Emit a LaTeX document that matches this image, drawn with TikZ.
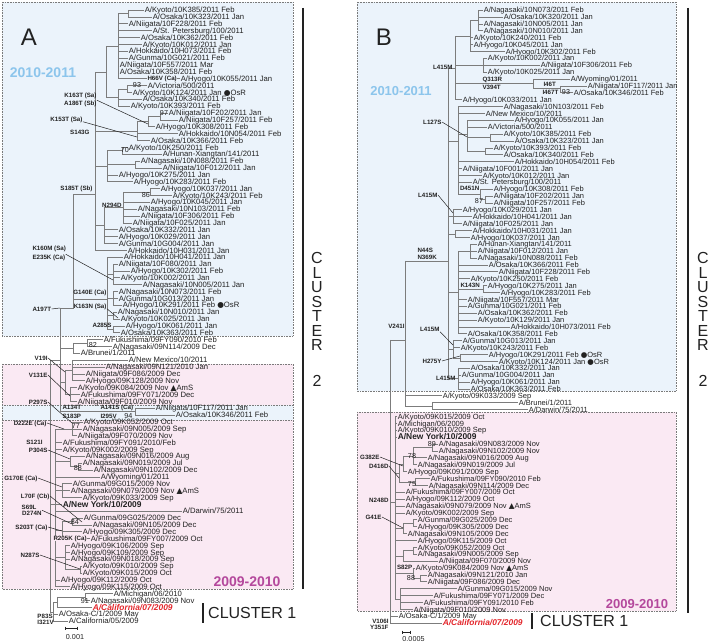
\documentclass[tikz,border=0pt]{standalone}
\usepackage{fontspec}
\setmainfont{Liberation Sans}
\newfontfamily\symf{DejaVu Sans}
\definecolor{bluebg}{HTML}{EBF3FB}
\definecolor{pinkbg}{HTML}{FAE9F3}
\definecolor{boxgray}{HTML}{7A7A7A}
\definecolor{treegray}{HTML}{7C7C7C}
\definecolor{txt}{HTML}{222222}
\definecolor{yearblue}{HTML}{8CC5EC}
\definecolor{yearpink}{HTML}{B4489C}
\definecolor{calred}{HTML}{E3262B}
\tikzset{
 br/.style={draw=treegray, line width=0.5pt},
 lfA/.style={anchor=west, inner xsep=0.6pt, inner ysep=0pt, text height=5.5pt, text depth=0pt, font=\fontsize{7.7}{8}\selectfont, text=txt},
 lfB/.style={lfA, font=\fontsize{7.5}{8}\selectfont},
 mut/.style={inner sep=0.3pt, text height=4.5pt, text depth=0pt, font=\bfseries\fontsize{6.2}{6.5}\selectfont, text=txt},
 bsn/.style={inner sep=0.3pt, text height=5pt, text depth=0pt, font=\fontsize{7.2}{7.5}\selectfont, text=txt},
 ptr/.style={draw=txt, line width=0.5pt},
 boxd/.style={draw=boxgray, densely dotted, line width=0.6pt},
 clus/.style={inner sep=0pt, text height=11.5pt, text depth=0pt, font=\fontsize{16}{16}\selectfont, text=txt},
 yr/.style={inner sep=0pt, font=\bfseries\fontsize{14}{14}\selectfont},
}
\newcommand\yA[1]{10+6.865*(#1-1)}
\newcommand\yB[1]{10+6.888*(#1-1)}
\newcommand\lfa[4]{\node[lfA] (a#1) at (#3,{\yA{#1}}) {#4}; \draw[br] (#2,{\yA{#1}}) -- (a#1.west);}
\newcommand\vla[3]{\draw[br] (#1,{\yA{#2}}) -- (#1,{\yA{#3}});}
\newcommand\hla[3]{\draw[br] (#1,{\yA{#3}}) -- (#2,{\yA{#3}});}
\newcommand\lfb[4]{\node[lfB] (b#1) at (#3,{\yB{#1}}) {#4}; \draw[br] (#2,{\yB{#1}}) -- (b#1.west);}
\newcommand\vlb[3]{\draw[br] (#1,{\yB{#2}}) -- (#1,{\yB{#3}});}
\newcommand\hlb[3]{\draw[br] (#1,{\yB{#3}}) -- (#2,{\yB{#3}});}
\newcommand\osr{{\symf ●}OsR}
\newcommand\ams{{\symf ▲}AmS}
\newcommand\nyk{{\bfseries\fontsize{8.4}{9}\selectfont A/New York/10/2009}}
\newcommand\calif{{\color{calred}\bfseries\itshape\fontsize{8.4}{9}\selectfont A/California/07/2009}}
\begin{document}
\begin{tikzpicture}[x=1pt,y=-1pt]
\useasboundingbox (0,0) rectangle (713,644);
\fill[white] (0,0) rectangle (713,644);
% ---------- boxes ----------
\fill[bluebg] (2,2) rectangle (293,336); \draw[boxd] (2,2) rectangle (293,336);
\fill[pinkbg] (2,364) rectangle (293,405); \draw[boxd] (2,364) rectangle (293,405);
\fill[bluebg] (2,405) rectangle (293,420); \draw[boxd] (2,405) rectangle (293,420);
\fill[pinkbg] (2,420) rectangle (293,589); \draw[boxd] (2,420) rectangle (293,589);
\fill[bluebg] (357,2) rectangle (676,391); \draw[boxd] (357,2) rectangle (676,391);
\fill[pinkbg] (357,412) rectangle (676,611); \draw[boxd] (357,412) rectangle (676,611);
% ---------- titles ----------
\node[inner sep=0, font=\fontsize{24}{24}\selectfont, text=txt] (ttlA) at (29,37) {A};
\node[inner sep=0, font=\fontsize{24}{24}\selectfont, text=txt] (ttlB) at (384,37) {B};
\node[yr, text=yearblue] (yA1) at (43,73) {2010-2011};
\node[yr, text=yearblue, font=\bfseries\fontsize{13}{13}\selectfont] (yB1) at (401,91) {2010-2011};
\node[yr, text=yearpink] (yA2) at (247,582) {2009-2010};
\node[yr, text=yearpink, font=\bfseries\fontsize{13}{13}\selectfont] (yB2) at (637,604) {2009-2010};
% cluster labels
\draw[draw=txt, line width=1.1pt] (303,8) -- (303,589);
\draw[draw=txt, line width=1.1pt] (688,8) -- (688,613);
\foreach \l/\yy [count=\k] in {C/258,L/272.5,U/287,S/301.5,T/316,E/330.5,R/345,2/381}{
  \node[clus] (cA\k) at (317,\yy) {\l};
  \node[clus] (cB\k) at (703,\yy) {\l};
}
\draw[draw=txt, line width=1.1pt] (203,603) -- (203,623);
\node[clus, anchor=west] (c1A) at (208,613) {CLUSTER 1};
\draw[draw=txt, line width=1.1pt] (532,613) -- (532,629);
\node[clus, anchor=west] (c1B) at (540,621) {CLUSTER 1};
% scale bars
\draw[br, draw=txt] (65,628) -- (77,628); \draw[br,draw=txt] (65,626.5)--(65,629.5); \draw[br,draw=txt] (77,626.5)--(77,629.5);
\node[bsn] (scA) at (75,637) {0.001};
\draw[br, draw=txt] (402,632) -- (410,632); \draw[br,draw=txt] (402,630.5)--(402,633.5); \draw[br,draw=txt] (410,630.5)--(410,633.5);
\node[bsn] (scB) at (413.5,639) {0.0005};
% =================== PANEL A ===================
\vla{118}{1.5}{11} \hla{118}{128}{1.5} \vla{128}{1}{2}
\lfa{1}{128}{144}{A/Kyoto/10K385/2011 Feb}
\lfa{2}{128}{152}{A/Osaka/10K323/2011 Jan}
\lfa{3}{118}{128}{A/Niigata/10F228/2011 Feb}
\lfa{4}{118}{152}{A/St. Petersburg/100/2011}
\lfa{5}{118}{140}{A/Osaka/10K362/2011 Feb}
\lfa{6}{118}{142}{A/Kyoto/10K012/2011 Jan}
\lfa{7}{118}{128}{A/Hokkaido/10H073/2011 Feb}
\lfa{8}{118}{128}{A/Gunma/10G021/2011 Feb}
\lfa{9}{118}{119}{A/Niigata/10F557/2011 Mar}
\lfa{10}{118}{119}{A/Osaka/10K358/2011 Feb}
\lfa{11}{118}{180}{A/Hyogo/10K055/2011 Jan}
\vla{118}{12.5}{15} \hla{118}{127}{12.5} \vla{127}{12}{13}
\lfa{12}{127}{147}{A/Victoria/500/2011}
\lfa{13}{127}{132}{A/Kyoto/10K124/2011 Jan \osr}
\lfa{14}{118}{142}{A/Osaka/10K340/2011 Feb}
\lfa{15}{118}{130}{A/Kyoto/10K393/2011 Feb}
\vla{106}{6.25}{13.75} \hla{106}{118}{6.25} \hla{106}{118}{13.75}
\vla{95}{10}{36} \hla{95}{106}{10}
\vla{160}{16}{17} \hla{148}{160}{16.5} \vla{148}{16.5}{18}
\lfa{16}{160}{168}{A/Niigata/10F202/2011 Jan}
\lfa{17}{160}{178}{A/Niigata/10F257/2011 Feb}
\lfa{18}{148}{155}{A/Hyogo/10K308/2011 Feb}
\hla{137}{148}{17.25} \vla{137}{17.25}{20}
\lfa{19}{137}{178}{A/Hokkaido/10N054/2011 Feb}
\lfa{20}{137}{150}{A/Osaka/10K366/2011 Feb}
\hla{95}{137}{18.6}
\vla{122}{21}{22} \hla{107}{122}{21.5}
\lfa{21}{122}{128}{A/Kyoto/10K250/2011 Feb}
\lfa{22}{122}{162}{A/Hunan-Xiangtan/141/2011}
\vla{135}{23}{24} \hla{107}{135}{23.5}
\lfa{23}{135}{140}{A/Nagasaki/10N088/2011 Feb}
\lfa{24}{135}{162}{A/Niigata/10F012/2011 Jan}
\lfa{25}{107}{118}{A/Hyogo/10K275/2011 Jan}
\lfa{26}{107}{133}{A/Hyogo/10K283/2011 Feb}
\vla{107}{21.5}{26} \hla{95}{107}{23.75}
\vla{150}{27}{28} \hla{123}{150}{27.5}
\lfa{27}{150}{160}{A/Hyogo/10K037/2011 Jan}
\lfa{28}{150}{172}{A/Kyoto/10K243/2011 Feb}
\lfa{29}{123}{150}{A/Hyogo/10K045/2011 Jan}
\lfa{30}{123}{137}{A/Nagasaki/10N103/2011 Feb}
\lfa{31}{123}{140}{A/Niigata/10F306/2011 Feb}
\lfa{32}{123}{132}{A/Niigata/10F025/2011 Jan}
\vla{123}{27.5}{32} \hla{104}{123}{29.75}
\lfa{33}{104}{118}{A/Osaka/10K332/2011 Jan}
\lfa{34}{104}{118}{A/Hyogo/10K029/2011 Jan}
\lfa{35}{104}{118}{A/Gunma/10G004/2011 Jan}
\vla{104}{29.75}{35} \hla{95}{104}{32.4}
\lfa{36}{95}{127}{A/Hokkaido/10H031/2011 Jan}
\lfa{37}{107}{123}{A/Hokkaido/10H041/2011 Jan}
\vla{113}{38}{41} \hla{107}{113}{39.5}
\lfa{38}{113}{118}{A/Niigata/10F080/2011 Jan}
\lfa{39}{113}{130}{A/Hyogo/10K302/2011 Feb}
\lfa{40}{113}{120}{A/Kyoto/10K002/2011 Jan}
\lfa{41}{113}{142}{A/Nagasaki/10N005/2011 Jan}
\vla{113}{42}{44} \hla{107}{113}{43}
\lfa{42}{113}{118}{A/Nagasaki/10N073/2011 Feb}
\lfa{43}{113}{118}{A/Gunma/10G013/2011 Jan}
\lfa{44}{113}{122}{A/Hyogo/10K291/2011 Feb \osr}
\vla{113}{45}{46} \hla{107}{113}{45.5}
\lfa{45}{113}{117}{A/Nagasaki/10N010/2011 Jan}
\lfa{46}{113}{120}{A/Kyoto/10K025/2011 Jan}
\vla{113}{47}{48} \hla{107}{113}{47.5}
\lfa{47}{113}{125}{A/Hyogo/10K061/2011 Jan}
\lfa{48}{113}{120}{A/Osaka/10K363/2011 Feb}
\vla{107}{37}{47.5} \hla{73}{107}{43.2}
\hla{73}{95}{27.9}
\vla{73}{27.9}{44.5} \hla{60}{73}{44.5}
\vla{87}{49}{50}
\lfa{49}{87}{103}{A/Fukushima/09FY090/2010 Feb}
\lfa{50}{87}{112}{A/Nagasaki/09N114/2009 Dec}
\hla{73}{87}{49.5} \vla{73}{49.5}{51}
\lfa{51}{73}{80}{A/Brunei/1/2011}
\hla{60}{73}{50.25}
\vla{72}{52}{55}
\lfa{52}{72}{128}{A/New Mexico/10/2011}
\lfa{53}{72}{105}{A/Nagasaki/09N121/2010 Jan}
\lfa{54}{72}{85}{A/Niigata/09F086/2009 Dec}
\lfa{55}{72}{85}{A/Hyogo/09K128/2009 Nov}
\vla{70}{56}{58}
\lfa{56}{70}{77}{A/Kyoto/09K084/2009 Nov \ams}
\lfa{57}{70}{80}{A/Fukushima/09FY071/2009 Dec}
\lfa{58}{70}{77}{A/Niigata/09F010/2009 Nov}
\vla{65}{53.5}{57} \hla{65}{72}{53.5} \hla{65}{70}{57} \hla{60}{65}{55.25}
\hla{60}{135}{59.5} \vla{135}{59}{60}
\lfa{59}{135}{155}{A/Niigata/10F117/2011 Jan}
\lfa{60}{135}{175}{A/Osaka/10K346/2011 Feb}
\vla{60}{44.5}{59.5}
\vla{50}{52}{88.7} \hla{50}{60}{52}
\vla{72}{61}{63} \hla{55}{72}{62}
\lfa{61}{72}{83}{A/Kyoto/09K052/2009 Oct}
\lfa{62}{72}{82}{A/Nagasaki/09N005/2009 Sep}
\lfa{63}{72}{77}{A/Niigata/09F070/2009 Nov}
\lfa{64}{55}{62}{A/Fukushima/09FY091/2010/Feb}
\lfa{65}{55}{62}{A/Kyoto/09K002/2009 Sep}
\vla{70}{66}{67.5} \hla{55}{70}{66.75}
\lfa{66}{70}{85}{A/Nagasaki/09N016/2009 Aug}
\vla{78}{67}{68} \hla{70}{78}{67.5}
\lfa{67}{78}{82}{A/Nagasaki/09N019/2009 Jul}
\lfa{68}{78}{93}{A/Nagasaki/09N102/2009 Dec}
\lfa{69}{55}{100}{A/Wyoming/01/2011}
\vla{62}{70}{72} \hla{55}{62}{71}
\lfa{70}{62}{72}{A/Gunma/09G015/2009 Nov}
\lfa{71}{62}{70}{A/Nagasaki/09N079/2009 Nov \ams}
\lfa{72}{62}{82}{A/Kyoto/09K033/2009 Sep}
\lfa{73}{55}{62}{\nyk}
\lfa{74}{55}{182}{A/Darwin/75/2011}
\vla{72}{75}{76}
\lfa{75}{72}{83}{A/Gunma/09G025/2009 Dec}
\lfa{76}{72}{92}{A/Nagasaki/09N105/2009 Dec}
\vla{62}{75.5}{78} \hla{62}{72}{75.5} \hla{55}{62}{76.75}
\lfa{77}{62}{82}{A/Hyogo/09K305/2009 Dec}
\lfa{78}{62}{90}{A/Fukushima/09FY007/2009 Oct}
\vla{65}{79}{82.5} \hla{55}{65}{80.75}
\lfa{79}{65}{70}{A/Hyogo/09K106/2009 Sep}
\lfa{80}{65}{70}{A/Hyogo/09K109/2009 Sep}
\lfa{81}{65}{70}{A/Nagasaki/09N018/2009 Sep}
\vla{80}{82}{83} \hla{65}{80}{82.5}
\lfa{82}{80}{82}{A/Kyoto/09K010/2009 Sep}
\lfa{83}{80}{82}{A/Kyoto/09K015/2009 Oct}
\lfa{84}{55}{60}{A/Hyogo/09K112/2009 Oct}
\lfa{85}{55}{70}{A/Hyogo/09K115/2009 Oct}
\vla{55}{62}{85} \hla{50}{55}{73}
\vla{85}{86}{87}
\lfa{86}{85}{113}{A/Michigan/06/2010}
\lfa{87}{85}{90}{A/Nagasaki/09N083/2009 Nov}
\hla{57}{85}{86.5} \vla{57}{86.5}{88}
\lfa{88}{57}{92}{\calif}
\hla{53}{57}{87.25} \vla{53}{87.25}{90}
\lfa{89}{53}{58}{A/Osaka-C/1/2009 May}
\lfa{90}{53}{68}{A/California/05/2009}
\hla{50}{53}{88.7}
% mutation labels A
\node[mut, fill=bluebg, anchor=west] (mH66V) at (147,{\yA{11}}) {H66V (Ca)};
\node[mut, anchor=east] (mK163T) at (97,95) {K163T (Sa)};
\node[mut, anchor=east] (mA186T) at (97,103) {A186T (Sb)};
\coordinate (tA186) at (148,124);
\draw[ptr] (mA186T.north east) -- (tA186);
\node[mut, anchor=east] (mK153T) at (83,119) {K153T (Sa)};
\coordinate (tK153) at (137,137);
\draw[ptr] (mK153T.south east) -- (tK153);
\node[mut, anchor=east] (mS143G) at (90,132) {S143G};
\node[mut, anchor=east] (mS185T) at (93,188) {S185T (Sb)};
\node[mut, anchor=east] (mN294D) at (122,205) {N294D};
\node[mut, anchor=west] (mK160M) at (32,248) {K160M (Sa)};
\node[mut, anchor=west] (mE235K) at (32,257) {E235K (Ca)};
\coordinate (tE235) at (113,280);
\draw[ptr] (mE235K.north east) -- (tE235);
\node[mut, anchor=east] (mG140E) at (107,292) {G140E (Ca)};
\node[mut, anchor=east] (mK163N) at (107,306) {K163N (Sa)};
\coordinate (tK163N) at (118,318);
\draw[ptr] (mK163N.south east) -- (tK163N);
\node[mut, anchor=west] (mA197T) at (32,309) {A197T};
\coordinate (tA197) at (60,308);
\draw[ptr] (mA197T.east) -- (tA197);
\node[mut, anchor=east] (mA285S) at (112,325) {A285S};
\node[mut, anchor=east] (mV19I) at (48,358) {V19I};
\coordinate (tV19) at (65,372);
\draw[ptr] (mV19I.east) -- (tV19);
\node[mut, anchor=east] (mV131E) at (48,375) {V131E};
\coordinate (tV131) at (70,396);
\draw[ptr] (mV131E.east) -- (tV131);
\node[mut, anchor=east] (mP297S) at (48,402) {P297S};
\coordinate (tP297) at (72,423);
\draw[ptr] (mP297S.east) -- (tP297);
\node[mut, anchor=west] (mA134T) at (62,407) {A134T};
\node[mut, anchor=west] (mS183P) at (62,416) {S183P};
\node[mut, anchor=west] (mA141S) at (100,407) {A141S (Ca)};
\node[mut, anchor=west] (mI295V) at (100,416) {I295V};
\node[mut, anchor=east] (mD222E) at (47,423) {D222E (Ca)};
\coordinate (tD222) at (64,429);
\draw[ptr] (mD222E.east) -- (tD222);
\node[mut, anchor=east] (mS121I) at (43,442) {S121I};
\node[mut, anchor=east] (mP304S) at (48,450) {P304S};
\coordinate (tP304) at (70,459);
\draw[ptr] (mP304S.east) -- (tP304);
\node[mut, anchor=east] (mG170E) at (38,478) {G170E (Ca)};
\coordinate (tG170) at (62,487);
\draw[ptr] (mG170E.east) -- (tG170);
\node[mut, anchor=east] (mL70F) at (50,496) {L70F (Cb)};
\coordinate (tL70) at (82,522);
\draw[ptr] (mL70F.east) -- (tL70);
\node[mut, anchor=east] (mS69L) at (37,507) {S69L};
\node[mut, anchor=east] (mD274N) at (42,513) {D274N};
\coordinate (tD274) at (72,524);
\draw[ptr] (mD274N.north east) -- (tD274);
\node[mut, anchor=east] (mS203T) at (48,527) {S203T (Ca)};
\coordinate (tS203) at (62,531);
\draw[ptr] (mS203T.east) -- (tS203);
\node[mut, fill=pinkbg, anchor=west] (mR205K) at (53,{\yA{78}}) {R205K (Ca)};
\node[mut, anchor=east] (mN287S) at (40,555) {N287S};
\coordinate (tN287) at (80,569);
\draw[ptr] (mN287S.east) -- (tN287);
\node[mut, anchor=west] (mP83S) at (37,616) {P83S};
\node[mut, anchor=west] (mI321V) at (37,622.5) {I321V};
% bootstrap A
\node[bsn] (bA1) at (137,85) {93};
\node[bsn] (bA2) at (164,113) {97};
\node[bsn] (bA3) at (125,150) {70};
\node[bsn] (bA4) at (146,195) {86};
\node[bsn] (bA5) at (93,345) {82};
\node[bsn] (bA6) at (128.5,415.8) {94};
\node[bsn] (bA7) at (76,426) {77};
\node[bsn] (bA8) at (78,468) {88};
\node[bsn] (bA9) at (75,522) {84};
\node[bsn] (bA10) at (85,601) {91};
% =================== PANEL B ===================
\vlb{478}{1}{4}
\lfb{1}{478}{483}{A/Nagasaki/10N073/2011 Feb}
\lfb{2}{478}{503}{A/Osaka/10K320/2011 Jan}
\lfb{3}{478}{483}{A/Nagasaki/10N005/2011 Jan}
\lfb{4}{478}{483}{A/Nagasaki/10N010/2011 Jan}
\hlb{470}{478}{2.5} \vlb{470}{2.5}{7}
\lfb{5}{470}{473}{A/Kyoto/10K240/2011 Feb}
\lfb{6}{470}{473}{A/Hyogo/10K045/2011 Jan}
\lfb{7}{470}{505}{A/Hyogo/10K302/2011 Feb}
\vlb{483}{8}{10}
\lfb{8}{483}{487}{A/Kyoto/10K002/2011 Jan}
\lfb{9}{483}{540}{A/Niigata/10F306/2011 Feb}
\lfb{10}{483}{487}{A/Kyoto/10K025/2011 Jan}
\vlb{533}{11}{12.32}
\lfb{11}{533}{570}{A/Wyoming/01/2011}
\vlb{560}{12}{13} \hlb{533}{560}{12.32}
\lfb{12}{560}{587}{A/Niigata/10F117/2011 Jan}
\lfb{13}{560}{573}{A/Osaka/10K346/2011 Feb}
\hlb{455}{470}{4.75} \hlb{455}{483}{9} \hlb{455}{533}{11.6}
\lfb{14}{455}{462}{A/Hyogo/10K033/2011 Jan}
\vlb{455}{4.75}{14} \hlb{448}{455}{9.5}
\lfb{15}{458}{503}{A/Nagasaki/10N103/2011 Feb}
\lfb{16}{458}{485}{A/New Mexico/10/2011}
\vlb{467}{17}{21.5} \hlb{458}{467}{19}
\lfb{17}{467}{514}{A/Hyogo/10K055/2011 Jan}
\lfb{18}{467}{487}{A/Victoria/500/2011}
\vlb{490}{19}{20} \hlb{467}{490}{19.5}
\lfb{19}{490}{503}{A/Kyoto/10K385/2011 Feb}
\lfb{20}{490}{514}{A/Osaka/10K323/2011 Jan}
\vlb{485}{21}{22} \hlb{467}{485}{21.5}
\lfb{21}{485}{493}{A/Kyoto/10K393/2011 Feb}
\lfb{22}{485}{503}{A/Osaka/10K340/2011 Feb}
\lfb{23}{458}{514}{A/Hokkaido/10H054/2011 Feb}
\lfb{24}{458}{462}{A/Niigata/10F001/2011 Jan}
\lfb{25}{458}{482}{A/Kyoto/10K012/2011 Jan}
\lfb{26}{458}{472}{A/St. Petersburg/100/2011}
\vlb{480}{27}{28.5} \hlb{458}{480}{27.75}
\lfb{27}{480}{493}{A/Hyogo/10K308/2011 Feb}
\vlb{485}{28}{29} \hlb{480}{485}{28.5}
\lfb{28}{485}{493}{A/Niigata/10F202/2011 Jan}
\lfb{29}{485}{493}{A/Niigata/10F257/2011 Feb}
\vlb{458}{15}{27.75} \hlb{448}{458}{20}
\vlb{453}{30}{32} \hlb{448}{453}{31}
\lfb{30}{453}{462}{A/Hyogo/10K029/2011 Jan}
\lfb{31}{453}{472}{A/Hokkaido/10H041/2011 Jan}
\lfb{32}{453}{462}{A/Niigata/10F025/2011 Jan}
\vlb{455}{33}{34} \hlb{448}{455}{33.5}
\lfb{33}{455}{472}{A/Hokkaido/10H031/2011 Jan}
\lfb{34}{455}{470}{A/Hyogo/10K037/2011 Jan}
\vlb{470}{35}{37} \hlb{458}{470}{36}
\lfb{35}{470}{477}{A/Hunan-Xiangtan/141/2011}
\lfb{36}{470}{477}{A/Niigata/10F012/2011 Jan}
\lfb{37}{470}{477}{A/Nagasaki/10N088/2011 Feb}
\lfb{38}{458}{488}{A/Osaka/10K366/2011 Feb}
\lfb{39}{458}{498}{A/Niigata/10F228/2011 Feb}
\lfb{40}{458}{470}{A/Kyoto/10K250/2011 Feb}
\vlb{483}{41}{42} \hlb{458}{483}{41.5}
\lfb{41}{483}{487}{A/Hyogo/10K275/2011 Jan}
\lfb{42}{483}{500}{A/Hyogo/10K283/2011 Feb}
\lfb{43}{458}{467}{A/Niigata/10F557/2011 Mar}
\lfb{44}{458}{467}{A/Gunma/10G021/2011 Feb}
\lfb{45}{458}{477}{A/Osaka/10K362/2011 Feb}
\lfb{46}{458}{477}{A/Kyoto/10K129/2011 Jan}
\lfb{47}{458}{510}{A/Hokkaido/10H073/2011 Feb}
\lfb{48}{458}{467}{A/Osaka/10K358/2011 Feb}
\vlb{458}{36}{48} \hlb{448}{458}{42}
\vlb{453}{49}{51.5}
\lfb{49}{453}{462}{A/Gunma/10G013/2011 Jan}
\lfb{50}{453}{460}{A/Kyoto/10K243/2011 Feb}
\vlb{460}{51}{52} \hlb{453}{460}{51.5}
\lfb{51}{460}{488}{A/Hyogo/10K291/2011 Feb \osr}
\lfb{52}{460}{498}{A/Kyoto/10K124/2011 Jan \osr}
\hlb{448}{453}{50.25}
\vlb{458}{53}{56}
\lfb{53}{458}{470}{A/Osaka/10K332/2011 Jan}
\lfb{54}{458}{461}{A/Gunma/10G004/2011 Jan}
\lfb{55}{458}{470}{A/Hyogo/10K061/2011 Jan}
\lfb{56}{458}{470}{A/Osaka/10K363/2011 Feb}
\hlb{448}{458}{54.5}
\vlb{448}{9.5}{54.5}
\hlb{405}{448}{37.44}
\vlb{405}{37.44}{58.5}
\lfb{57}{405}{442}{A/Kyoto/09K033/2009 Sep}
\vlb{432}{58}{59} \hlb{405}{432}{58.5}
\lfb{58}{432}{518}{A/Brunei/1/2011}
\lfb{59}{432}{528}{A/Darwin/75/2011}
\hlb{390}{405}{48.9}
\vlb{390}{48.9}{90}
\lfb{60}{395}{397}{A/Kyoto/09K015/2009 Oct}
\lfb{61}{395}{397}{A/Michigan/06/2009}
\lfb{62}{395}{397}{A/Kyoto/09K010/2009 Sep}
\lfb{63}{395}{397}{\nyk}
\vlb{432}{64}{65}
\lfb{64}{432}{438}{A/Nagasaki/09N083/2009 Nov}
\lfb{65}{432}{438}{A/Nagasaki/09N102/2009 Nov}
\vlb{413}{64.5}{67} \hlb{413}{432}{64.5}
\lfb{66}{413}{427}{A/Nagasaki/09N016/2009 Aug}
\lfb{67}{413}{417}{A/Nagasaki/09N019/2009 Jul}
\vlb{403}{65.75}{68} \hlb{403}{413}{65.75}
\lfb{68}{403}{407}{A/Hyogo/09K091/2009 Sep}
\vlb{415}{69}{70}
\lfb{69}{415}{430}{A/Fukushima/09FY090/2010 Feb}
\lfb{70}{415}{428}{A/Nagasaki/09N114/2009 Dec}
\vlb{399}{66.9}{69.5} \hlb{399}{403}{66.9} \hlb{399}{415}{69.5} \hlb{395}{399}{68.2}
\lfb{71}{395}{405}{A/Fukushima/09FY007/2009 Oct}
\lfb{72}{395}{405}{A/Hyogo/09K112/2009 Oct}
\lfb{73}{395}{405}{A/Nagasaki/09N079/2009 Nov \ams}
\lfb{74}{395}{405}{A/Kyoto/09K002/2009 Sep}
\vlb{413}{75}{76}
\lfb{75}{413}{417}{A/Gunma/09G025/2009 Dec}
\lfb{76}{413}{417}{A/Hyogo/09K305/2009 Dec}
\vlb{403}{75.5}{77} \hlb{403}{413}{75.5}
\lfb{77}{403}{407}{A/Nagasaki/09N105/2009 Dec}
\hlb{395}{403}{76.25}
\lfb{78}{395}{417}{A/Hyogo/09K115/2009 Oct}
\vlb{413}{79}{80}
\lfb{79}{413}{417}{A/Kyoto/09K052/2009 Oct}
\lfb{80}{413}{417}{A/Nagasaki/09N005/2009 Sep}
\vlb{403}{79.5}{81} \hlb{403}{413}{79.5}
\lfb{81}{403}{438}{A/Niigata/09F070/2009 Nov}
\hlb{395}{403}{80.25}
\vlb{413}{82}{83.5}
\lfb{82}{413}{415}{A/Kyoto/09K084/2009 Nov \ams}
\vlb{420}{83}{84} \hlb{413}{420}{83.5}
\lfb{83}{420}{427}{A/Nagasaki/09N121/2010 Jan}
\lfb{84}{420}{427}{A/Niigata/09F086/2009 Dec}
\hlb{395}{413}{82.75}
\vlb{400}{85}{88}
\lfb{85}{400}{457}{A/Gunma/09G015/2009 Nov}
\lfb{86}{400}{433}{A/Fukushima/09FY071/2009 Dec}
\lfb{87}{400}{423}{A/Fukushima/09FY091/2010 Feb}
\lfb{88}{400}{413}{A/Niigata/09F010/2009 Nov}
\hlb{395}{400}{86.5}
\vlb{395}{60}{86.5} \hlb{390}{395}{72.5}
\lfb{89}{390}{398}{A/Osaka-C/1/2009 May}
\lfb{90}{390}{442}{\calif}
% mutation labels B
\node[mut, anchor=east] (mL415a) at (453,67) {L415M};
\node[mut, anchor=west] (mQ313R) at (482,79) {Q313R};
\node[mut, anchor=west] (mV394T) at (482,87.5) {V394T};
\node[mut, anchor=west] (mI46T) at (543,84) {I46T};
\node[mut, anchor=west] (mI467T) at (542,92.5) {I467T};
\node[bsn] (bB1) at (566,92) {93};
\node[mut, anchor=east] (mL127S) at (442,122) {L127S};
\coordinate (tL127) at (467,137);
\draw[ptr] (mL127S.east) -- (tL127);
\node[mut, anchor=east] (mL415b) at (438,195) {L415M};
\coordinate (tL415b) at (453,213);
\draw[ptr] (mL415b.east) -- (tL415b);
\node[mut, anchor=west] (mD451N) at (459.5,188) {D451N};
\node[bsn] (bB2) at (479,201) {87};
\node[mut, anchor=west] (mN44S) at (417,250) {N44S};
\node[mut, anchor=west] (mN369K) at (417,257) {N369K};
\node[mut, anchor=west] (mK143N) at (460,285.5) {K143N};
\node[mut, anchor=east] (mV241I) at (405,326) {V241I};
\node[mut, anchor=east] (mL415c) at (440,329) {L415M};
\coordinate (tL415c) at (453,345);
\draw[ptr] (mL415c.south east) -- (tL415c);
\node[mut, anchor=east] (mH275Y) at (442,361) {H275Y};
\coordinate (tH275) at (460,356);
\draw[ptr] (mH275Y.east) -- (tH275);
\node[mut, anchor=east] (mL415d) at (456,378) {L415M};
\node[mut, anchor=east] (mG382E) at (380,457) {G382E};
\coordinate (tG382) at (403,466);
\draw[ptr] (mG382E.east) -- (tG382);
\node[mut, anchor=east] (mD416) at (389,466) {D416D};
\coordinate (tD416) at (399,478);
\draw[ptr] (mD416.east) -- (tD416);
\node[bsn, anchor=east] (bB3) at (436.5,444.5) {89};
\node[bsn] (bB4) at (412,456) {78};
\node[bsn] (bB5) at (412,484) {75};
\node[mut, anchor=east] (mN248D) at (389,500) {N248D};
\node[mut, anchor=east] (mG41E) at (382,517) {G41E};
\coordinate (tG41) at (403,528);
\draw[ptr] (mG41E.east) -- (tG41);
\node[mut, anchor=west] (mS82P) at (396.5,567) {S82P};
\node[bsn] (bB6) at (411,578) {88};
\node[mut, anchor=east] (mV106I) at (389,621) {V106I};
\node[mut, anchor=east] (mY351F) at (389,627.5) {Y351F};
\end{tikzpicture}
\end{document}
